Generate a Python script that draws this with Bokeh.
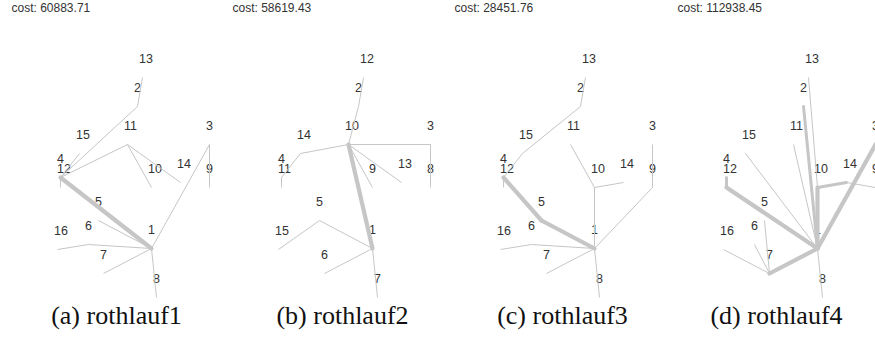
from bokeh.plotting import figure
from bokeh.models import Range1d, ColumnDataSource
from bokeh.core.properties import value
from bokeh.embed import file_html
from bokeh.resources import INLINE

# ---- data -------------------------------------------------------------
# Node coordinates of the 16-node instance (y grows downward)
nodes16_id = list(range(1, 17))
nodes16_x = [151, 137, 209, 60, 98, 88, 103, 156, 209, 151, 127, 60, 142, 180, 79, 57]
nodes16_y = [248, 106, 144, 177, 220, 244, 273, 297, 187, 187, 144, 187, 77, 182, 153, 249]

# Node coordinates of the 15-node instance
nodes15_id = list(range(1, 16))
nodes15_x = [151, 137, 209, 60, 98, 103, 156, 209, 151, 127, 60, 142, 180, 79, 57]
nodes15_y = [248, 106, 144, 177, 220, 273, 297, 187, 187, 144, 187, 77, 182, 153, 249]

# Tree edges of each solution: (from, to, load class)
edges_rothlauf1 = [
    (13, 2, "light"), (2, 4, "light"), (4, 15, "light"), (4, 11, "light"),
    (4, 12, "light"), (11, 10, "light"), (11, 14, "light"), (4, 1, "heavy"),
    (1, 3, "light"), (3, 9, "light"), (5, 1, "light"), (16, 6, "light"),
    (6, 1, "light"), (1, 7, "light"), (1, 8, "light"),
]
edges_rothlauf2 = [
    (12, 2, "light"), (2, 10, "light"), (10, 14, "light"), (14, 4, "light"),
    (4, 11, "light"), (10, 1, "heavy"), (10, 9, "light"), (10, 13, "light"),
    (10, 3, "light"), (3, 8, "light"), (1, 5, "light"), (5, 15, "light"),
    (1, 6, "light"), (1, 7, "light"),
]
edges_rothlauf3 = [
    (13, 2, "light"), (2, 15, "light"), (15, 4, "light"), (4, 12, "light"),
    (4, 5, "heavy"), (5, 1, "heavy"), (11, 10, "light"), (10, 14, "light"),
    (10, 1, "light"), (1, 9, "light"), (9, 3, "light"), (16, 6, "light"),
    (6, 1, "light"), (1, 7, "light"), (1, 8, "light"),
]
edges_rothlauf4 = [
    (13, 10, "light"), (2, 1, "medium"), (11, 1, "light"), (15, 1, "light"),
    (4, 12, "medium"), (12, 1, "heavy"), (10, 1, "heavy"), (10, 14, "medium"),
    (14, 9, "light"), (1, 3, "heavy"), (1, 8, "light"), (7, 1, "heavy"),
    (5, 7, "light"), (6, 7, "light"), (16, 7, "light"),
]

panel_captions = ["(a) rothlauf1", "(b) rothlauf2", "(c) rothlauf3", "(d) rothlauf4"]
panel_costs = ["60883.71", "58619.43", "28451.76", "112938.45"]

# ---- layout / styles --------------------------------------------------
W, H = 875, 337
panel_x0 = [0, 221, 443, 666]
caption_cx = [116, 342, 562, 776]
width_of = {"light": 1.0, "medium": 3.0, "heavy": 4.2}
EDGE_COLOR = "#c6c6c6"
LABEL_COLOR = "#333333"

panels = [
    (nodes16_id, nodes16_x, nodes16_y, edges_rothlauf1),
    (nodes15_id, nodes15_x, nodes15_y, edges_rothlauf2),
    (nodes16_id, nodes16_x, nodes16_y, edges_rothlauf3),
    (nodes16_id, nodes16_x, nodes16_y, edges_rothlauf4),
]

p = figure(width=W, height=H, x_range=Range1d(0, W), y_range=Range1d(H, 0),
           output_backend="svg", toolbar_location=None, min_border=0)
p.axis.visible = False
p.grid.visible = False
p.outline_line_color = None
p.background_fill_color = "white"
p.border_fill_color = "white"

for i, (ids, nx, ny, edges) in enumerate(panels):
    x0 = panel_x0[i]
    pos = {n: (x + x0, y) for n, x, y in zip(ids, nx, ny)}

    # node labels (drawn first so the edges sit on top)
    lab = ColumnDataSource(dict(x=[pos[n][0] for n in ids], y=[pos[n][1] for n in ids],
                                t=[str(n) for n in ids]))
    p.text(x="x", y="y", text="t", source=lab, text_align="left",
           text_baseline="alphabetic", x_offset=-3.5, y_offset=-19,
           text_font=value("Liberation Sans"), text_font_size="12.5px",
           text_color=LABEL_COLOR)

    # edges
    for cls in ("light", "medium", "heavy"):
        sel = [e for e in edges if e[2] == cls]
        if not sel:
            continue
        src = ColumnDataSource(dict(
            xs=[[pos[a][0], pos[b][0]] for a, b, _ in sel],
            ys=[[pos[a][1], pos[b][1]] for a, b, _ in sel],
        ))
        p.multi_line(xs="xs", ys="ys", source=src, line_color=EDGE_COLOR,
                     line_width=width_of[cls],
                     line_cap="round" if cls != "light" else "butt",
                     line_join="round")

    # cost header
    p.text(x=[x0 + 11], y=[7.5], text=["cost: " + panel_costs[i]], text_align="left",
           text_baseline="alphabetic", text_font=value("Liberation Sans"),
           text_font_size="12px", text_color="#333333")

    # caption
    p.text(x=[caption_cx[i]], y=[315], text=[panel_captions[i]], text_align="center",
           text_baseline="alphabetic", text_font=value("Liberation Serif"),
           text_font_size="26px", text_color="#111111")

open("out.html", "w").write(file_html(p, INLINE))
